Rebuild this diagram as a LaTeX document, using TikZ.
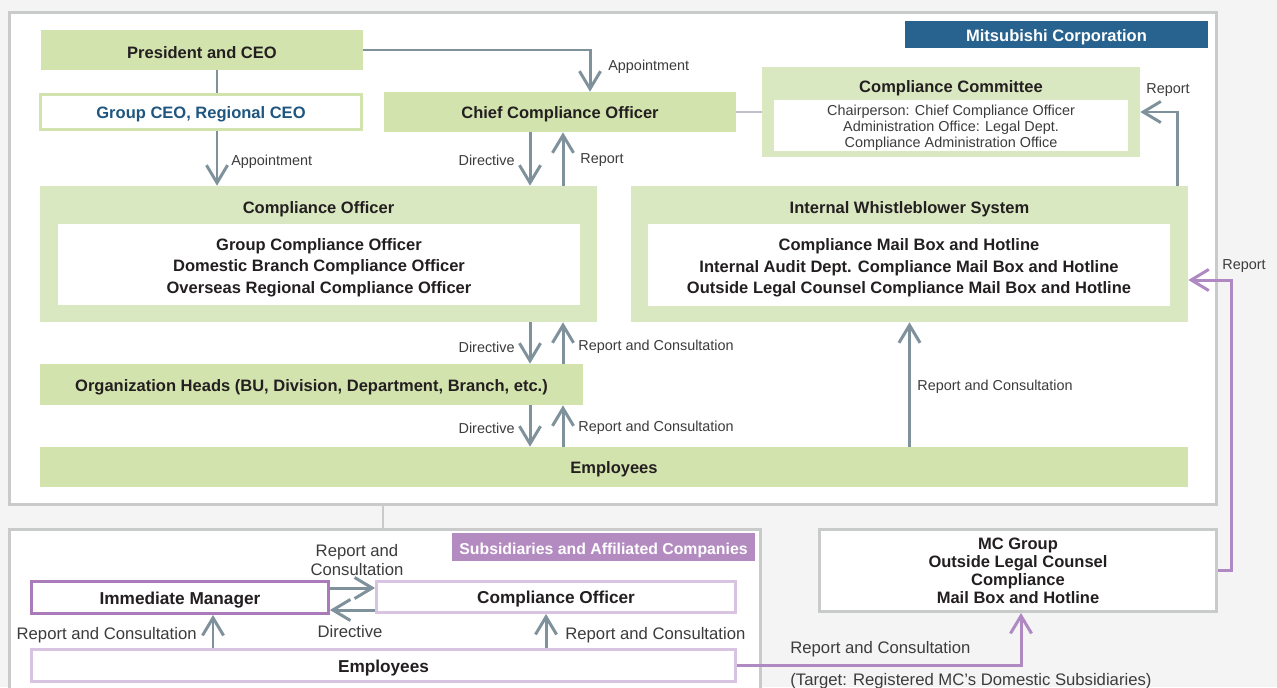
\documentclass[tikz,border=0pt]{standalone}
\usepackage{fontspec}
\setmainfont{Liberation Sans}
\usepackage{xcolor}
\definecolor{pagebg}{HTML}{F3F4F3}
\definecolor{framegray}{HTML}{C9CACA}
\definecolor{greenA}{HTML}{D3E3AE}
\definecolor{greenB}{HTML}{DAE8C1}
\definecolor{arrgray}{HTML}{7F929B}
\definecolor{mcblue}{HTML}{28628E}
\definecolor{ceoblue}{HTML}{1F5680}
\definecolor{subpurple}{HTML}{B38BC1}
\definecolor{imborder}{HTML}{A97BB8}
\definecolor{lightpurple}{HTML}{D8C4E1}
\definecolor{purpline}{HTML}{B089C3}
\definecolor{ccline}{HTML}{BEC0CB}
\definecolor{txtdark}{HTML}{231F20}
\definecolor{lblgray}{HTML}{3C3C3C}
\usepackage{tikz}
\usetikzlibrary{arrows.meta,positioning,calc}

\begin{document}
\begin{tikzpicture}[x=0.02cm,y=-0.02cm,
  frame/.style={draw=framegray,line width=1.7pt,fill=white,inner sep=0pt},
  banner/.style={inner sep=0pt,text=white,font=\fontsize{9.4}{11}\selectfont\bfseries,
                 execute at begin node={\rule{0pt}{10pt}}},
  gbox/.style={fill=greenA,inner sep=0pt,text=txtdark,
               font=\fontsize{9.4}{12.2}\selectfont\bfseries,align=center,
               execute at begin node={\rule{0pt}{9.6pt}}},
  cbox/.style={fill=greenB,inner sep=0pt},
  wbox/.style={fill=white,inner sep=0pt,text=txtdark,
               font=\fontsize{9.4}{12.2}\selectfont\bfseries,align=center,
               execute at begin node={\rule{0pt}{9.6pt}}},
  wtext/.style={inner sep=0pt,text=txtdark,
               font=\fontsize{9.4}{12.2}\selectfont\bfseries,align=center},
  title/.style={inner sep=0pt,text=txtdark,font=\fontsize{9.4}{11}\selectfont\bfseries,
                execute at begin node={\rule{0pt}{9.6pt}}},
  sbox/.style={fill=white,draw=lightpurple,line width=1.7pt,inner sep=0pt,text=txtdark,
               font=\fontsize{9.8}{12}\selectfont\bfseries,align=center,
               execute at begin node={\rule{0pt}{9.9pt}}},
  lbl/.style={inner sep=0pt,text=lblgray,font=\fontsize{8.2}{10}\selectfont},
  slbl/.style={inner sep=0pt,text=lblgray,font=\fontsize{9.5}{10.4}\selectfont,align=center},
  arr/.style={-{Straight Barb[length=10pt,width=12pt]},line width=1.7pt,color=arrgray},
  parr/.style={-{Straight Barb[length=10pt,width=12pt]},line width=1.7pt,color=purpline},
  link/.style={line width=1.7pt,color=framegray}
]
\path[use as bounding box,fill=pagebg] (0,0) rectangle (1277,687);

% Mitsubishi Corporation
\node[frame,minimum width=24.14cm,minimum height=9.84cm] (mcframe) at (613,258.5) {};
\node[banner,fill=mcblue,minimum width=6.06cm,minimum height=0.54cm] (mcbanner) at (1056.5,34.5) {Mitsubishi Corporation};

\node[gbox,minimum width=6.44cm,minimum height=0.8cm] (pres) at (202,50) {President and CEO};
\node[wbox,draw=greenA,line width=1.7pt,text=ceoblue,minimum width=6.42cm,minimum height=0.7cm] (gceo) at (201,112) {Group CEO, Regional CEO};
\node[gbox,minimum width=7.04cm,minimum height=0.8cm] (cco) at (560,112) {Chief Compliance Officer};

% Compliance Committee
\node[cbox,minimum width=7.56cm,minimum height=1.8cm] (coc) at (951,112) {};
\node[title] (coctitle) at (951,86) {Compliance Committee};
\node[fill=white,minimum width=7.08cm,minimum height=1.02cm,inner sep=0pt] (cocin) at (951,125.5) {};
\node[wtext,font=\fontsize{8.2}{9.1}\selectfont,text=lblgray] (coctxt) at (951,127.5)
  {Chairperson: Chief Compliance Officer\\Administration Office: Legal Dept.\\Compliance Administration Office};

% Compliance Officer / Internal Whistleblower System
\node[cbox,minimum width=11.14cm,minimum height=2.72cm] (co) at (318.5,254) {};
\node[title] (cotitle) at (318.5,207) {Compliance Officer};
\node[fill=white,minimum width=10.44cm,minimum height=1.62cm,inner sep=0pt] (coin) at (319,264.5) {};
\node[wtext] (cotxt) at (319,267.5)
  {Group Compliance Officer\\Domestic Branch Compliance Officer\\Overseas Regional Compliance Officer};

\node[cbox,minimum width=11.14cm,minimum height=2.72cm] (iws) at (909.5,254) {};
\node[title] (iwstitle) at (909.5,207) {Internal Whistleblower System};
\node[fill=white,minimum width=10.44cm,minimum height=1.64cm,inner sep=0pt] (iwsin) at (909,265) {};
\node[wtext] (iwstxt) at (909,268)
  {Compliance Mail Box and Hotline\\Internal Audit Dept. Compliance Mail Box and Hotline\\Outside Legal Counsel Compliance Mail Box and Hotline};

\node[gbox,minimum width=10.86cm,minimum height=0.82cm] (oh) at (311.5,384.5) {Organization Heads (BU, Division, Department, Branch, etc.)};
\node[gbox,minimum width=22.96cm,minimum height=0.8cm] (emp) at (614,467) {Employees};

% Subsidiaries and Affiliated Companies
\node[frame,minimum width=15.02cm,minimum height=3.4cm] (subframe) at (385,614.5) {};
\node[banner,fill=subpurple,font=\fontsize{9}{11}\selectfont\bfseries,minimum width=6.06cm,minimum height=0.56cm] (subbanner) at (603.5,547) {Subsidiaries and Affiliated Companies};
\node[sbox,draw=imborder,minimum width=5.94cm,minimum height=0.64cm] (im) at (180,597.5) {Immediate Manager};
\node[sbox,minimum width=7.18cm,minimum height=0.62cm] (sco) at (556,597) {Compliance Officer};
\node[sbox,minimum width=14.08cm,minimum height=0.64cm] (semp) at (383.5,665.5) {Employees};

\node[frame,minimum width=7.94cm,minimum height=1.64cm,text=txtdark,align=center,
      font=\fontsize{9.4}{10.2}\selectfont\bfseries] (mcg) at (1018,570.5)
  {MC Group\\Outside Legal Counsel\\Compliance\\Mail Box and Hotline};

% Hilfslinien
\coordinate (xa) at (217,0);
\coordinate (xb) at (590,0);
\coordinate (xd) at (530,0);
\coordinate (xr) at (563,0);
\coordinate (xw) at (1177,0);
\coordinate (xl) at (383,0);
\coordinate (xm) at (213,0);
\coordinate (xs) at (546,0);
\coordinate (xp) at (1231,0);
\coordinate (xg) at (1021,0);
\coordinate (yu) at (0,588);
\coordinate (yv) at (0,610);
\coordinate (yp) at (0,280);

% Verbindungen oben
\draw[link,color=arrgray] (pres.south -| xa) -- (gceo.north -| xa);
\draw[arr] (gceo.south -| xa) -- (co.north -| xa);
\draw[arr] (pres.east) -| (cco.north -| xb);
\draw[link,color=ccline] (cco.east) -- (coc.west);
\draw[arr] (cco.south -| xd) -- (co.north -| xd);
\draw[arr] (co.north -| xr) -- (cco.south -| xr);
\draw[arr] (iws.north -| xw) |- (coc.east);
\draw[arr] (co.south -| xd) -- (oh.north -| xd);
\draw[arr] (oh.north -| xr) -- (co.south -| xr);
\draw[arr] (oh.south -| xd) -- (emp.north -| xd);
\draw[arr] (emp.north -| xr) -- (oh.south -| xr);
\draw[arr] (emp.north -| iws.south) -- (iws.south);
\draw[link] (mcframe.south -| xl) -- (subframe.north -| xl);

% Verbindungen unten
\draw[arr] (im.east |- yu) -- (sco.west |- yu);
\draw[arr] (sco.west |- yv) -- (im.east |- yv);
\draw[arr] (semp.north -| xm) -- (im.south -| xm);
\draw[arr] (semp.north -| xs) -- (sco.south -| xs);
\draw[parr] (semp.east) -| (mcg.south -| xg);
\draw[parr] (mcg.east) -| (xp |- yp) -- (iws.east |- yp);

% Beschriftungen
\node[lbl,anchor=west] (lappa) at (231,162) {Appointment};
\node[lbl,anchor=west] (lappb) at (608,67) {Appointment};
\node[lbl,anchor=east] (ldir1) at (515,160) {Directive};
\node[lbl,anchor=west] (lrep1) at (580,160) {Report};
\node[lbl] (lrepc) at (1168,90) {Report};
\node[lbl,anchor=east] (ldir2) at (515,347) {Directive};
\node[lbl,anchor=west] (lrep2) at (578,347) {Report and Consultation};
\node[lbl,anchor=east] (ldir3) at (515,428) {Directive};
\node[lbl,anchor=west] (lrep3) at (578,428) {Report and Consultation};
\node[lbl,anchor=west] (lrepw) at (917,387) {Report and Consultation};
\node[lbl,anchor=west] (lrepp) at (1222,266) {Report};
\node[slbl] (lsrep) at (357,560) {Report and\\Consultation};
\node[slbl] (lsdir) at (350,632) {Directive};
\node[slbl,anchor=east] (lsrepm) at (197,635) {Report and Consultation};
\node[slbl,anchor=west] (lsrepo) at (565,635) {Report and Consultation};
\node[slbl,anchor=west] (lsrepg) at (790,649) {Report and Consultation};
\node[slbl,anchor=west] (ltarget) at (790,681) {(Target: Registered MC’s Domestic Subsidiaries)};

\end{tikzpicture}
\end{document}
